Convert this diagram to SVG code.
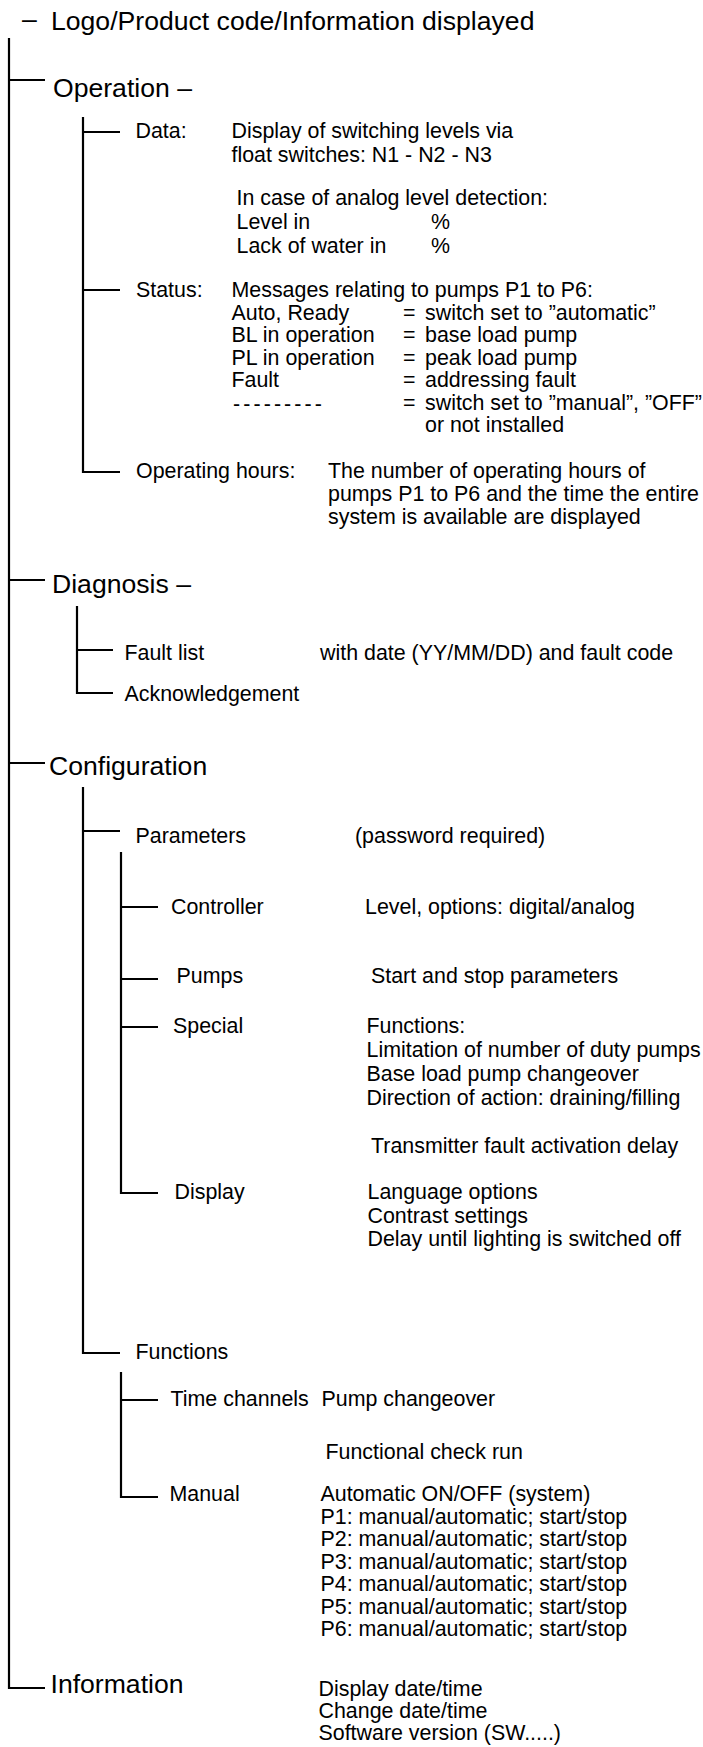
<svg xmlns="http://www.w3.org/2000/svg" width="703" height="1747" viewBox="0 0 703 1747">
<style>
text { font-family: "Liberation Sans", Arial, Helvetica, sans-serif; fill: #000; }
.big { font-size: 26.6px; }
.sm { font-size: 21.4px; }
.ln { fill: none; stroke: #000; stroke-width: 2.2; stroke-linecap: butt; stroke-linejoin: miter; }
</style>
<rect width="703" height="1747" fill="#fff"/>
<g id="connectors" class="ln">
  <path d="M9,38 V1688 H45"/>
  <path d="M9,80 H45"/>
  <path d="M9,580 H45"/>
  <path d="M9,763 H45"/>
  <path d="M83,117 V472 H120"/>
  <path d="M83,132 H120"/>
  <path d="M83,290 H120"/>
  <path d="M77,606 V693 H113"/>
  <path d="M77,650 H113"/>
  <path d="M83,787 V1353 H120"/>
  <path d="M83,831 H120"/>
  <path d="M121,852 V1193 H158"/>
  <path d="M121,907 H158"/>
  <path d="M121,979 H158"/>
  <path d="M121,1027 H158"/>
  <path d="M121,1372 V1497 H158"/>
  <path d="M121,1400 H158"/>
</g>
<g id="title">
  <text class="big" x="22" y="28">–</text>
  <text class="big" x="51" y="30">Logo/Product code/Information displayed</text>
</g>
<g id="operation">
  <text class="big" x="53" y="97">Operation –</text>
</g>
<g id="data">
  <text class="sm" x="135.5" y="138">Data:</text>
  <text class="sm" x="231.5" y="138">Display of switching levels via</text>
  <text class="sm" x="231.5" y="162">float switches: N1 - N2 - N3</text>
  <text class="sm" x="236.5" y="205">In case of analog level detection:</text>
  <text class="sm" x="236.5" y="229">Level in</text>
  <text class="sm" x="431" y="229">%</text>
  <text class="sm" x="236.5" y="253">Lack of water in</text>
  <text class="sm" x="431" y="253">%</text>
</g>
<g id="status">
  <text class="sm" x="136" y="297">Status:</text>
  <text class="sm" x="231.5" y="297">Messages relating to pumps P1 to P6:</text>
  <text class="sm" x="231.5" y="319.5">Auto, Ready</text>
  <text class="sm" x="403" y="319.5">=</text>
  <text class="sm" x="425" y="319.5">switch set to ”automatic”</text>
  <text class="sm" x="231.5" y="342">BL in operation</text>
  <text class="sm" x="403" y="342">=</text>
  <text class="sm" x="425" y="342">base load pump</text>
  <text class="sm" x="231.5" y="364.5">PL in operation</text>
  <text class="sm" x="403" y="364.5">=</text>
  <text class="sm" x="425" y="364.5">peak load pump</text>
  <text class="sm" x="231.5" y="387">Fault</text>
  <text class="sm" x="403" y="387">=</text>
  <text class="sm" x="425" y="387">addressing fault</text>
  <text class="sm" x="233" y="411" letter-spacing="3.1">---------</text>
  <text class="sm" x="403" y="409.5">=</text>
  <text class="sm" x="425" y="409.5">switch set to ”manual”, ”OFF”</text>
  <text class="sm" x="425" y="432">or not installed</text>
</g>
<g id="operating-hours">
  <text class="sm" x="136" y="478">Operating hours:</text>
  <text class="sm" x="328" y="478">The number of operating hours of</text>
  <text class="sm" x="328" y="501">pumps P1 to P6 and the time the entire</text>
  <text class="sm" x="328" y="524">system is available are displayed</text>
</g>
<g id="diagnosis">
  <text class="big" x="52" y="593">Diagnosis –</text>
</g>
<g id="fault-list">
  <text class="sm" x="124.5" y="660">Fault list</text>
  <text class="sm" x="320" y="660">with date (YY/MM/DD) and fault code</text>
</g>
<g id="acknowledgement">
  <text class="sm" x="124.5" y="701">Acknowledgement</text>
</g>
<g id="configuration">
  <text class="big" x="49" y="775">Configuration</text>
</g>
<g id="parameters">
  <text class="sm" x="135.5" y="843">Parameters</text>
  <text class="sm" x="355" y="843">(password required)</text>
</g>
<g id="controller">
  <text class="sm" x="171" y="914">Controller</text>
  <text class="sm" x="365" y="914">Level, options: digital/analog</text>
</g>
<g id="pumps">
  <text class="sm" x="176.5" y="983">Pumps</text>
  <text class="sm" x="371" y="983">Start and stop parameters</text>
</g>
<g id="special">
  <text class="sm" x="173" y="1033">Special</text>
  <text class="sm" x="366.5" y="1033">Functions:</text>
  <text class="sm" x="366.5" y="1057">Limitation of number of duty pumps</text>
  <text class="sm" x="366.5" y="1081">Base load pump changeover</text>
  <text class="sm" x="366.5" y="1105">Direction of action: draining/filling</text>
  <text class="sm" x="371" y="1153">Transmitter fault activation delay</text>
</g>
<g id="display">
  <text class="sm" x="174.5" y="1199">Display</text>
  <text class="sm" x="367.5" y="1199">Language options</text>
  <text class="sm" x="367.5" y="1222.5">Contrast settings</text>
  <text class="sm" x="367.5" y="1246">Delay until lighting is switched off</text>
</g>
<g id="functions">
  <text class="sm" x="135.5" y="1359">Functions</text>
</g>
<g id="time-channels">
  <text class="sm" x="170.5" y="1406">Time channels</text>
  <text class="sm" x="321.5" y="1406">Pump changeover</text>
  <text class="sm" x="325.5" y="1459">Functional check run</text>
</g>
<g id="manual">
  <text class="sm" x="169.5" y="1501">Manual</text>
  <text class="sm" x="320.5" y="1501">Automatic ON/OFF (system)</text>
  <text class="sm" x="320.5" y="1523.5">P1: manual/automatic; start/stop</text>
  <text class="sm" x="320.5" y="1546">P2: manual/automatic; start/stop</text>
  <text class="sm" x="320.5" y="1568.5">P3: manual/automatic; start/stop</text>
  <text class="sm" x="320.5" y="1591">P4: manual/automatic; start/stop</text>
  <text class="sm" x="320.5" y="1613.5">P5: manual/automatic; start/stop</text>
  <text class="sm" x="320.5" y="1636">P6: manual/automatic; start/stop</text>
</g>
<g id="information">
  <text class="big" x="50.5" y="1693">Information</text>
  <text class="sm" x="318.5" y="1696">Display date/time</text>
  <text class="sm" x="318.5" y="1718">Change date/time</text>
  <text class="sm" x="318.5" y="1740">Software version (SW.....)</text>
</g>
</svg>
